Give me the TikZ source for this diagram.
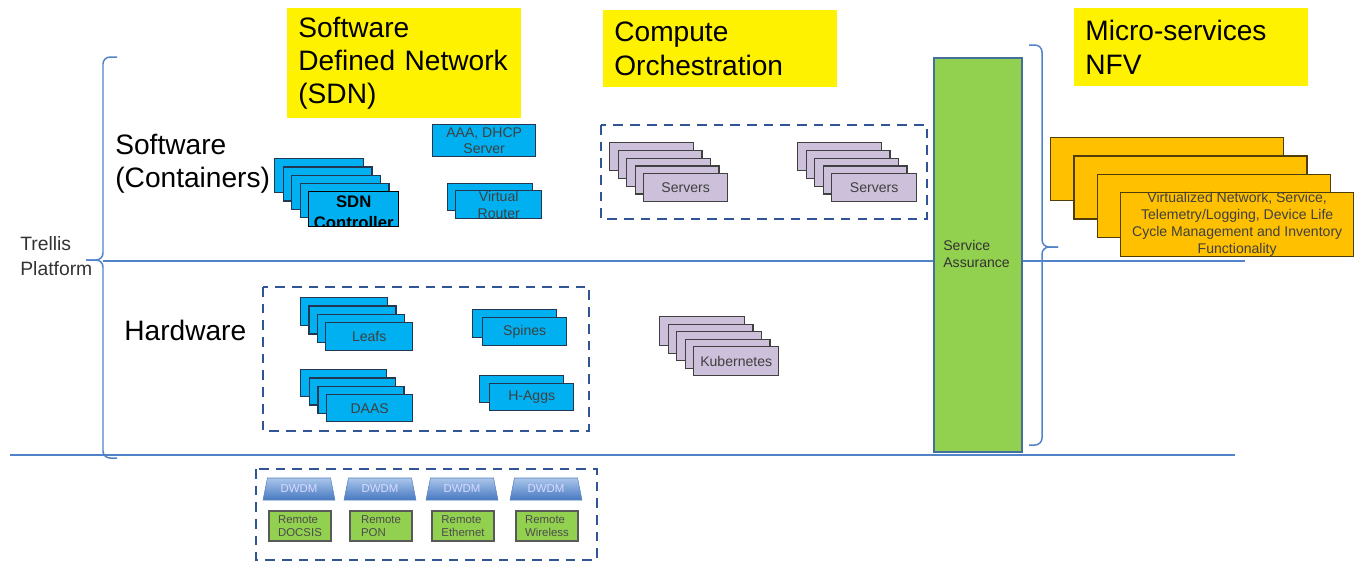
\documentclass[tikz,border=0pt]{standalone}
\usepackage{fontspec}
\setmainfont{Liberation Sans}
\usetikzlibrary{shapes.geometric}
\definecolor{hwfill}{RGB}{0,176,240}
\definecolor{hwline}{RGB}{35,55,80}
\definecolor{srvfill}{RGB}{204,192,218}
\definecolor{srvline}{RGB}{64,64,64}
\definecolor{nfvfill}{RGB}{255,192,0}
\definecolor{nfvline}{RGB}{80,62,10}
\definecolor{safill}{RGB}{146,208,80}
\definecolor{saline}{RGB}{65,113,156}
\definecolor{dashblue}{RGB}{47,85,151}
\definecolor{rule}{RGB}{82,130,200}
\begin{document}
\begin{tikzpicture}[x=0.02cm,y=-0.02cm,
  hw/.style = {draw=hwline, fill=hwfill, line width=0.8pt, anchor=north west, inner sep=0pt,
               align=center, text=black!75, font=\fontsize{8}{9.6}\selectfont},
  srv/.style = {hw, draw=srvline, fill=srvfill},
  nfv/.style = {hw, draw=nfvline, fill=nfvfill},
  title/.style = {fill=yellow, anchor=north west, align=left, inner xsep=0.22cm, inner ysep=0pt,
                  text width=4.24cm, font=\fontsize{16}{19}\selectfont},
  layer/.style = {anchor=west, align=left, inner sep=0pt, font=\fontsize{16}{19}\selectfont},
  dbox/.style = {draw=dashblue, line width=1.4pt, dash pattern=on 5.5pt off 4pt},
  rulel/.style = {draw=rule, line width=0.85pt},
  brace/.style = {draw=rule, line width=0.85pt, rounded corners=4pt},
  dwdm/.style = {trapezium, trapezium left angle=72, trapezium right angle=72, trapezium stretches=true,
                 minimum width=1.44cm, minimum height=0.44cm, inner sep=0pt,
                 top color={rgb,255:red,170;green,198;blue,235}, bottom color={rgb,255:red,70;green,120;blue,192},
                 draw={rgb,255:red,90;green,130;blue,190}, line width=0.3pt,
                 text=white!85!blue, font=\fontsize{6.5}{8}\selectfont},
  remote/.style = {draw=black!65, fill=safill, line width=0.8pt, minimum width=1.24cm, minimum height=0.6cm,
                   inner sep=0pt, align=left, text=black!70, font=\fontsize{6.5}{7.8}\selectfont}]
\useasboundingbox (0,0) rectangle (1356,562);

% rules and braces
\draw[rulel] (103,261) -- (1245,261);
\draw[rulel] (10,455) -- (1235,455);
\draw[brace] (117,57) -- (103,57) -- (103,260) -- (86,260);
\draw[brace] (86,260) -- (103,260) -- (103,458) -- (117,458);
\draw[brace] (1029,45) -- (1042,45) -- (1042,247) -- (1058,247);
\draw[brace] (1058,247) -- (1042,247) -- (1042,445) -- (1029,445);

% titles
\node[title, minimum height=2.2cm] (sdnt) at (287,8) {Software\\Defined Network\\(SDN)};
\node[title, minimum height=1.54cm] (compt) at (603,10) {Compute\\Orchestration};
\node[title, minimum height=1.56cm] (nfvt) at (1074,8) {Micro-services\\NFV};

\node[anchor=west, align=left, inner sep=0pt, font=\fontsize{11}{14}\selectfont, text=black!80] (trellis) at (20,256) {Trellis\\Platform};
\node[layer] (swl) at (115,164) {Software\\(Containers)};
\node[layer] (hwl) at (124,330) {Hardware};

% software containers
\foreach \i in {0,...,3}
  \node[hw, minimum width=1.78cm, minimum height=0.68cm] (sdn\i) at (274+8.5*\i,158+8.25*\i) {};
\node[hw, draw=black, minimum width=1.8cm, minimum height=0.7cm,
      path picture={\node[anchor=center, align=center, text=black, font=\fontsize{9.5}{12}\selectfont\bfseries]
        at ([yshift=-0.06cm]path picture bounding box.center) {SDN\\Controller};}] (sdnc) at (308,191) {};
\node[hw, minimum width=2.06cm, minimum height=0.64cm] (aaa) at (432,124) {AAA, DHCP\\Server};
\node[hw, minimum width=1.7cm, minimum height=0.54cm] (vr0) at (447,183) {};
\node[hw, minimum width=1.72cm, minimum height=0.56cm] (vr) at (455,190) {Virtual\\Router};

% compute
\draw[dbox] (601,125) rectangle (927,219);
\foreach \i in {0,...,3} {
  \node[srv, minimum width=1.68cm, minimum height=0.56cm] (srva\i) at (609+8.5*\i,142+7.75*\i) {};
  \node[srv, minimum width=1.68cm, minimum height=0.56cm] (srvb\i) at (797+8.5*\i,142+7.75*\i) {};
}
\node[srv, minimum width=1.68cm, minimum height=0.56cm] (srva) at (643,173) {Servers};
\node[srv, minimum width=1.7cm, minimum height=0.56cm] (srvb) at (831,173) {Servers};

% hardware
\draw[dbox] (263,287) rectangle (589,431);
\foreach \i in {0,...,2} {
  \node[hw, minimum width=1.74cm, minimum height=0.56cm] (leaf\i) at (300+8.33*\i,297+8.33*\i) {};
  \node[hw, minimum width=1.72cm, minimum height=0.54cm] (daas\i) at (300+8.67*\i,369+8.33*\i) {};
}
\node[hw, minimum width=1.74cm, minimum height=0.56cm] (leaf) at (325,322) {Leafs};
\node[hw, minimum width=1.72cm, minimum height=0.54cm] (daas) at (326,394) {DAAS};
\node[hw, minimum width=1.68cm, minimum height=0.56cm] (spn0) at (472,309) {};
\node[hw, minimum width=1.68cm, minimum height=0.56cm] (spn) at (482,317) {Spines};
\node[hw, minimum width=1.68cm, minimum height=0.54cm] (hagg0) at (479,375) {};
\node[hw, minimum width=1.68cm, minimum height=0.54cm] (hagg) at (489,383) {H-Aggs};

\foreach \i in {0,...,3}
  \node[srv, minimum width=1.7cm, minimum height=0.58cm] (kub\i) at (659+8.5*\i,316+7.5*\i) {};
\node[srv, minimum width=1.7cm, minimum height=0.58cm] (kub) at (693,346) {Kubernetes};

% service assurance
\node[draw=saline, fill=safill, line width=0.9pt, anchor=north west, minimum width=1.76cm, minimum height=7.88cm,
      inner sep=0pt] (sa) at (933,57) {};
\node[anchor=west, align=left, inner sep=0pt, text=black!80, font=\fontsize{8}{10}\selectfont] (salbl) at (943,254) {Service\\Assurance};

% nfv
\foreach \i in {0,...,2}
  \node[nfv, minimum width=4.66cm, minimum height=1.26cm] (nfv\i) at (1050+23.33*\i,137+18.33*\i) {};
\node[nfv, minimum width=4.66cm, minimum height=1.26cm] (nfv) at (1120,192)
  {Virtualized Network, Service,\\Telemetry/Logging, Device Life\\Cycle Management and Inventory\\Functionality};

% access
\draw[dbox] (256,469) rectangle (597,560);
\foreach \x/\lbl [count=\k] in {300/DOCSIS, 381/PON, 463/Ethernet, 547/Wireless} {
  \node[dwdm] (dw\k) at (\x-1,489) {DWDM};
  \node[remote] (rm\k) at (\x,526) {Remote\\\lbl};
}
\end{tikzpicture}
\end{document}
